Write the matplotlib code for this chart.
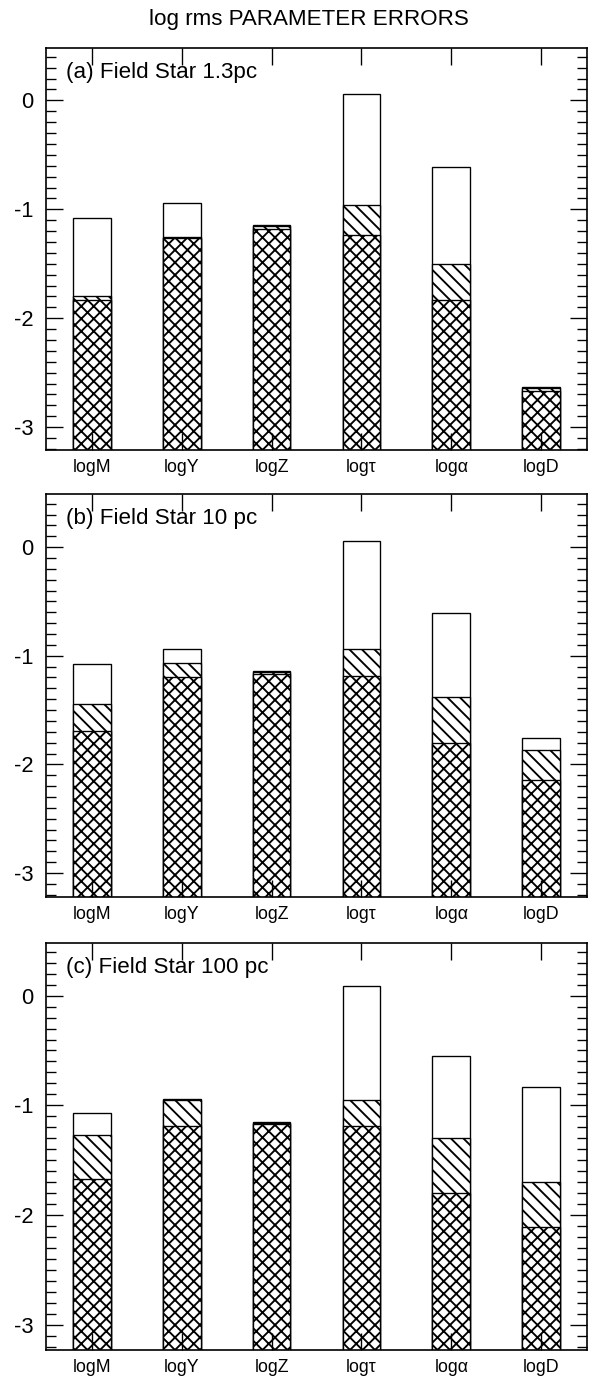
import matplotlib
matplotlib.use('Agg')
import matplotlib.pyplot as plt
from matplotlib.ticker import MultipleLocator

plt.rcParams['font.family'] = ['Liberation Sans', 'DejaVu Sans']
plt.rcParams['hatch.linewidth'] = 1.8

params = ['logM', 'logY', 'logZ', 'logτ', 'logα', 'logD']
panel_labels = ['(a) Field Star 1.3pc', '(b) Field Star 10 pc', '(c) Field Star 100 pc']

# top of the open bar, the hatched bar and the cross-hatched bar
total_a = [-1.08, -0.94, -1.14, 0.06, -0.61, -2.63]
hatch_a = [-1.80, -1.25, -1.15, -0.96, -1.50, -2.64]
cross_a = [-1.83, -1.26, -1.18, -1.24, -1.83, -2.67]

total_b = [-1.08, -0.94, -1.14, 0.06, -0.61, -1.76]
hatch_b = [-1.44, -1.07, -1.15, -0.94, -1.38, -1.87]
cross_b = [-1.69, -1.20, -1.17, -1.19, -1.80, -2.14]

total_c = [-1.07, -0.94, -1.15, 0.09, -0.55, -0.83]
hatch_c = [-1.27, -0.95, -1.16, -0.95, -1.30, -1.70]
cross_c = [-1.67, -1.19, -1.17, -1.19, -1.80, -2.11]

panels = [(total_a, hatch_a, cross_a), (total_b, hatch_b, cross_b), (total_c, hatch_c, cross_c)]

fig = plt.figure(figsize=(590 / 75, 1378 / 75), dpi=75)
boxes = [[0.078, 0.6734, 0.917, 0.2917],
         [0.078, 0.3491, 0.917, 0.2925],
         [0.078, 0.0203, 0.917, 0.2954]]
ylims = [(-3.21, 0.48), (-3.22, 0.49), (-3.23, 0.48)]

fig.text(0.524, 0.9855, 'log rms PARAMETER ERRORS', ha='center', va='center', fontsize=21.5)

x = list(range(len(params)))
base = -4.0
for i, (tot, hat, crs) in enumerate(panels):
    ax = fig.add_axes(boxes[i])
    ax.bar(x, [t - base for t in tot], bottom=base, width=0.42,
           color='white', edgecolor='black', linewidth=1.3)
    ax.bar(x, [h - base for h in hat], bottom=base, width=0.42,
           color='white', edgecolor='black', linewidth=1.3, hatch='\\\\')
    ax.bar(x, [c - base for c in crs], bottom=base, width=0.42,
           color='white', edgecolor='black', linewidth=1.3, hatch='xx')
    ax.set_xlim(-0.512, 5.512)
    ax.set_ylim(*ylims[i])
    ax.set_xticks(x)
    ax.set_xticklabels(params, fontsize=17)
    ax.set_yticks([0, -1, -2, -3])
    ax.set_yticklabels(['0', '-1', '-2', '-3'], fontsize=21)
    ax.yaxis.set_minor_locator(MultipleLocator(0.1))
    ax.tick_params(axis='x', direction='in', length=16, width=1.3, top=True, pad=9)
    ax.tick_params(axis='y', which='major', direction='in', length=16, width=1.3,
                   right=True, pad=12)
    ax.tick_params(axis='y', which='minor', direction='in', length=10, width=1.3,
                   right=True)
    for s in ax.spines.values():
        s.set_linewidth(1.6)
    ax.text(0.037, 0.94, panel_labels[i], transform=ax.transAxes,
            ha='left', va='center', fontsize=21.5)

fig.savefig('out.png', dpi=75)
